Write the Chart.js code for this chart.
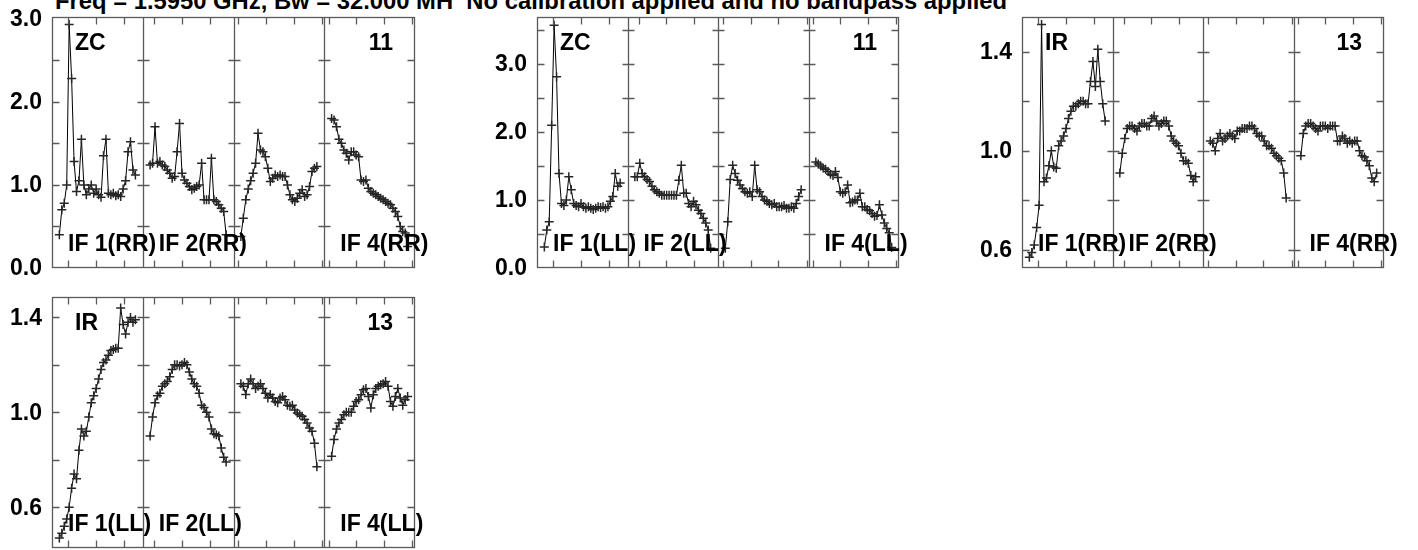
<!DOCTYPE html>
<html><head><meta charset="utf-8">
<script src="https://cdn.jsdelivr.net/npm/chart.js@4.4.1/dist/chart.umd.min.js"></script>
<style>
html,body{margin:0;padding:0;background:#fff;width:1418px;height:550px;overflow:hidden;position:relative;font-family:"Liberation Sans",Arial,sans-serif;}
#title{position:absolute;left:55px;top:-12px;font-weight:bold;font-size:23.8px;line-height:26px;white-space:pre;color:#000;}
canvas{position:absolute;}
</style></head><body>
<div id="title">Freq = 1.5950 GHz, Bw = 32.000 MH  No calibration applied and no bandpass applied</div>
<canvas id="c1"></canvas><canvas id="c2"></canvas><canvas id="c3"></canvas><canvas id="c4"></canvas>
<script>
// ---------------- data ----------------
const ifNames = ["IF 1", "IF 2", "IF 3", "IF 4"];
const ifLabelShown = [true, true, false, true];
// x tick positions (channel units, 37 units per IF panel)
const xTicks = [6.5, 17.9, 29.4, 41.6, 52.9, 64.3, 75.9, 87.3, 98.6, 110.2, 112.75, 124.0, 135.2, 146.8];

// ZC, RR
const zcRR1 = [0.40,0.70,0.78,1.00,2.93,2.28,1.28,0.92,1.05,1.55,1.00,0.88,0.95,1.00,0.90,0.95,0.88,0.85,1.35,1.55,0.90,0.88,0.90,0.87,0.88,0.86,0.95,1.05,1.40,1.52,1.18,1.12];
const zcRR2 = [1.24,1.26,1.70,1.26,1.28,1.24,1.22,1.18,1.14,1.08,1.10,1.40,1.74,1.14,1.06,1.02,0.98,0.94,0.96,0.98,1.00,1.26,0.82,0.82,0.82,1.32,0.82,0.80,0.76,0.72,0.68,0.40];
const zcRR3 = [0.38,0.60,0.82,0.95,1.05,1.14,1.26,1.62,1.42,1.40,1.34,1.20,1.04,1.08,1.12,1.10,1.12,1.10,1.10,1.00,0.88,0.82,0.80,0.84,0.90,0.94,0.86,0.88,0.98,1.16,1.20,1.22];
const zcRR4 = [1.80,1.78,1.70,1.55,1.50,1.42,1.38,1.30,1.40,1.40,1.36,1.34,1.06,1.04,1.06,0.96,0.92,0.90,0.88,0.86,0.84,0.82,0.80,0.78,0.76,0.72,0.68,0.62,0.50,0.44,0.42,0.26];
// ZC, LL
const zcLL1 = [0.31,0.56,0.68,2.10,3.57,2.81,1.39,0.95,0.92,1.00,1.34,1.15,0.95,0.92,0.90,0.95,0.90,0.88,0.90,0.88,0.86,0.88,0.90,0.89,0.90,0.88,0.90,0.98,1.05,1.39,1.20,1.25];
const zcLL2 = [1.34,1.34,1.54,1.39,1.34,1.30,1.27,1.20,1.15,1.12,1.10,1.07,1.07,1.07,1.07,1.07,1.07,1.07,1.29,1.51,1.10,1.10,0.95,0.90,0.98,0.93,0.85,0.80,0.73,0.66,0.56,0.29];
const zcLL3 = [0.29,0.68,1.30,1.51,1.39,1.29,1.22,1.17,1.12,1.10,1.12,1.05,1.51,1.15,1.12,1.05,1.00,0.98,0.95,0.93,0.95,0.90,0.90,0.90,0.92,0.88,0.88,0.90,0.88,0.95,1.05,1.15];
const zcLL4 = [1.56,1.53,1.50,1.47,1.45,1.42,1.38,1.36,1.42,1.33,1.12,1.10,1.12,1.22,0.96,0.97,1.00,1.00,1.10,0.90,0.90,0.86,0.84,0.80,0.76,0.77,0.93,0.78,0.66,0.58,0.52,0.30];
// IR, RR
const irRR1 = [0.57,0.59,0.62,0.69,0.78,1.51,0.875,0.89,0.94,1.00,0.935,0.93,1.02,1.04,1.06,1.09,1.13,1.16,1.18,1.18,1.19,1.20,1.20,1.19,1.19,1.28,1.36,1.26,1.41,1.28,1.19,1.12];
const irRR2 = [0.91,0.99,1.05,1.09,1.10,1.10,1.09,1.08,1.10,1.11,1.11,1.10,1.10,1.13,1.14,1.12,1.10,1.11,1.12,1.12,1.10,1.06,1.04,1.03,1.02,0.99,0.96,0.96,0.95,0.90,0.875,0.895];
const irRR3 = [1.04,1.03,1.00,1.05,1.07,1.04,1.05,1.06,1.07,1.06,1.05,1.08,1.08,1.09,1.09,1.09,1.10,1.10,1.09,1.07,1.06,1.06,1.04,1.02,1.02,1.01,0.99,0.98,0.97,0.96,0.91,0.81];
const irRR4 = [0.98,1.07,1.10,1.11,1.11,1.10,1.09,1.08,1.10,1.10,1.10,1.09,1.10,1.10,1.10,1.04,1.04,1.06,1.05,1.03,1.04,1.03,1.04,1.04,1.00,0.98,0.975,0.96,0.94,0.89,0.875,0.91];
// IR, LL
const irLL1 = [0.47,0.49,0.52,0.55,0.60,0.68,0.74,0.72,0.84,0.93,0.90,0.92,0.98,1.04,1.07,1.10,1.14,1.18,1.21,1.22,1.24,1.26,1.265,1.27,1.27,1.44,1.37,1.33,1.38,1.40,1.38,1.39];
const irLL2 = [0.90,0.98,1.04,1.07,1.08,1.11,1.12,1.13,1.15,1.18,1.20,1.20,1.195,1.20,1.21,1.20,1.17,1.14,1.12,1.11,1.08,1.03,1.02,1.00,0.98,0.93,0.91,0.905,0.90,0.85,0.81,0.79];
const irLL3 = [1.12,1.11,1.075,1.12,1.14,1.12,1.10,1.11,1.12,1.10,1.08,1.06,1.075,1.06,1.046,1.04,1.06,1.067,1.053,1.03,1.025,1.03,1.01,0.997,0.99,0.983,0.97,0.955,0.934,0.92,0.87,0.77];
const irLL4 = [0.815,0.885,0.93,0.955,0.97,0.99,1.00,1.00,1.00,1.025,1.046,1.053,1.074,1.095,1.10,1.067,1.018,1.074,1.10,1.11,1.116,1.12,1.13,1.11,1.046,1.025,1.067,1.10,1.06,1.03,1.053,1.067];

// y tick marks and labelled ticks
const zcRRMarks = [0.5,1.0,1.5,2.0,2.5];
const zcRRLabels = [0,1,2,3];
const zcLLMarks = [0.5,1.0,1.5,2.0,2.5,3.0,3.5];
const zcLLLabels = [0,1,2,3];
const irMarks = [0.6,0.8,1.0,1.2,1.4];
const irLabels = [0.6,1.0,1.4];

// ---------------- layout ----------------
const W = 37, M = 3;
const PADL = 52, PADT = 17, PADR = 60, PADB = 22;
const panels = [
  {id:'c1', box:[52,17,415,268],   ymin:0,     ymax:3.02,  marks:zcRRMarks, labels:zcRRLabels, src:'ZC', num:'11', pol:'RR', data:[zcRR1,zcRR2,zcRR3,zcRR4]},
  {id:'c2', box:[537,17,899,268],  ymin:0,     ymax:3.69,  marks:zcLLMarks, labels:zcLLLabels, src:'ZC', num:'11', pol:'LL', data:[zcLL1,zcLL2,zcLL3,zcLL4]},
  {id:'c3', box:[1022,17,1384,268],ymin:0.527, ymax:1.54,  marks:irMarks,   labels:irLabels,   src:'IR', num:'13', pol:'RR', data:[irRR1,irRR2,irRR3,irRR4]},
  {id:'c4', box:[52,297,415,548],  ymin:0.428, ymax:1.486, marks:irMarks,   labels:irLabels,   src:'IR', num:'13', pol:'LL', data:[irLL1,irLL2,irLL3,irLL4]}
];

const FRAME = '#5a5a5a';
const FONT = 'bold 23px "Liberation Sans", Arial, sans-serif';
const TFONT = 'bold 23px "Liberation Sans", Arial, sans-serif';

const framePlugin = {
  id: 'frame',
  afterDatasetsDraw(chart, args, opts) {
    const p = opts.panel;
    const ctx = chart.ctx;
    const ca = chart.chartArea;
    const xs = chart.scales.x, ys = chart.scales.y;
    const L = Math.round(ca.left) + 0.5, R = Math.round(ca.right) - 0.5;
    const T = Math.round(ca.top) + 0.5, B = Math.round(ca.bottom) - 0.5;
    ctx.save();
    ctx.strokeStyle = FRAME;
    ctx.lineWidth = 1.3;
    ctx.strokeRect(L, T, R - L, B - T);
    ctx.beginPath();
    const divs = [];
    for (let i = 1; i < 4; i++) {
      const d = Math.round(xs.getPixelForValue(i * W)) + 0.5;
      divs.push(d);
      ctx.moveTo(d, T); ctx.lineTo(d, B);
    }
    p.marks.forEach(v => {
      const y = Math.round(ys.getPixelForValue(v)) + 0.5;
      ctx.moveTo(L, y); ctx.lineTo(L + 7, y);
      ctx.moveTo(R - 7, y); ctx.lineTo(R, y);
      divs.forEach(d => { ctx.moveTo(d - 6, y); ctx.lineTo(d + 6, y); });
    });
    xTicks.forEach(t => {
      const x = Math.round(xs.getPixelForValue(t)) + 0.5;
      ctx.moveTo(x, T); ctx.lineTo(x, T + 7);
      ctx.moveTo(x, B - 7); ctx.lineTo(x, B);
    });
    ctx.stroke();
    ctx.fillStyle = '#000';
    ctx.font = TFONT;
    ctx.textAlign = 'right';
    ctx.textBaseline = 'middle';
    p.labels.forEach(v => {
      ctx.fillText(v.toFixed(1), ca.left - 10, ys.getPixelForValue(v) + 1);
    });
    ctx.font = FONT;
    ctx.textBaseline = 'alphabetic';
    ctx.textAlign = 'left';
    ctx.fillText(p.src, ca.left + 23, ca.top + 33);
    ctx.textAlign = 'right';
    ctx.fillText(p.num, ca.right - 22, ca.top + 33);
    ctx.textAlign = 'left';
    for (let i = 0; i < 4; i++) {
      if (!ifLabelShown[i]) continue;
      const sx = xs.getPixelForValue(i * W);
      ctx.fillText(ifNames[i] + '(' + p.pol + ')', sx + 16, ca.bottom - 17);
    }
    ctx.restore();
  }
};

panels.forEach(p => {
  const cv = document.getElementById(p.id);
  const [l, t, r, b] = p.box;
  cv.width = (r - l) + PADL + PADR;
  cv.height = (b - t) + PADT + PADB;
  cv.style.left = (l - PADL) + 'px';
  cv.style.top = (t - PADT) + 'px';
  const datasets = p.data.map((vals, i) => ({
    data: vals.map((v, k) => ({x: i * W + M + k, y: v})),
    showLine: true,
    borderColor: '#000',
    borderWidth: 1,
    pointStyle: 'cross',
    pointRadius: 4.5,
    pointBorderWidth: 1.5,
    pointBorderColor: '#262626',
    pointBackgroundColor: '#262626',
    tension: 0
  }));
  new Chart(cv, {
    type: 'scatter',
    data: { datasets },
    options: {
      responsive: false,
      animation: false,
      events: [],
      layout: { padding: { left: PADL, top: PADT, right: PADR, bottom: PADB } },
      plugins: { legend: { display: false }, tooltip: { enabled: false }, frame: { panel: p } },
      scales: {
        x: { type: 'linear', display: false, min: 0, max: 4 * W },
        y: { type: 'linear', display: false, min: p.ymin, max: p.ymax }
      }
    },
    plugins: [framePlugin]
  });
});
</script>
</body></html>
